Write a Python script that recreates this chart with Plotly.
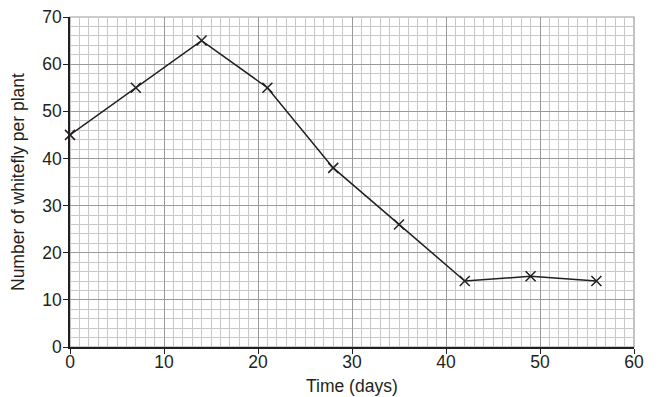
import plotly.graph_objects as go

days = [0, 7, 14, 21, 28, 35, 42, 49, 56]
whitefly = [45, 55, 65, 55, 38, 26, 14, 15, 14]
x_ticks = [0, 10, 20, 30, 40, 50, 60]
y_ticks = [0, 10, 20, 30, 40, 50, 60, 70]
x_title = "Time (days)"
y_title = "Number of whitefly per plant"

fig = go.Figure()
fig.add_trace(go.Scatter(
    x=days, y=whitefly, mode="lines+markers",
    line=dict(color="#231f20", width=1.5),
    marker=dict(symbol="x-thin", size=10, color="#231f20",
                line=dict(color="#231f20", width=1.5)),
    cliponaxis=False,
))

font = dict(family="Liberation Sans, Arial, sans-serif", color="#231f20")
fig.update_layout(
    width=663, height=397,
    margin=dict(l=70, r=29, t=17, b=50),
    plot_bgcolor="white", paper_bgcolor="white",
    showlegend=False,
    font=font,
    xaxis=dict(
        range=[0, 60], tickvals=x_ticks, ticks="outside", ticklen=5,
        tickcolor="#231f20", showline=True, linecolor="#231f20", linewidth=1.5,
        showgrid=True, gridcolor="#9a9a9a", gridwidth=1.2,
        minor=dict(dtick=1, showgrid=True, gridcolor="#c8c8c8", gridwidth=1),
        tickfont=dict(size=17.5), zeroline=False, automargin=False,
        ticklabelstandoff=-7,
    ),
    yaxis=dict(
        range=[0, 70], tickvals=y_ticks, ticks="outside", ticklen=5,
        tickcolor="#231f20", showline=True, linecolor="#231f20", linewidth=1.5,
        showgrid=True, gridcolor="#9a9a9a", gridwidth=1.2,
        minor=dict(dtick=2, showgrid=True, gridcolor="#c8c8c8", gridwidth=1),
        tickfont=dict(size=17.5), zeroline=False, automargin=False,
        ticklabelstandoff=-2,
    ),
    annotations=[
        dict(text=x_title, xref="paper", yref="paper", x=0.5, y=0,
             yshift=-39, xanchor="center", yanchor="middle", showarrow=False,
             font=dict(size=17.5)),
        dict(text=y_title, xref="paper", yref="paper", x=0, y=0.5,
             xshift=-52, xanchor="center", yanchor="middle", showarrow=False,
             textangle=-90, font=dict(size=17.5)),
    ],
)
fig.add_shape(type="rect", xref="paper", yref="paper", x0=0, y0=0, x1=1, y1=1,
              line=dict(color="#9a9a9a", width=1.2), layer="below")

fig.write_html("out.html")
